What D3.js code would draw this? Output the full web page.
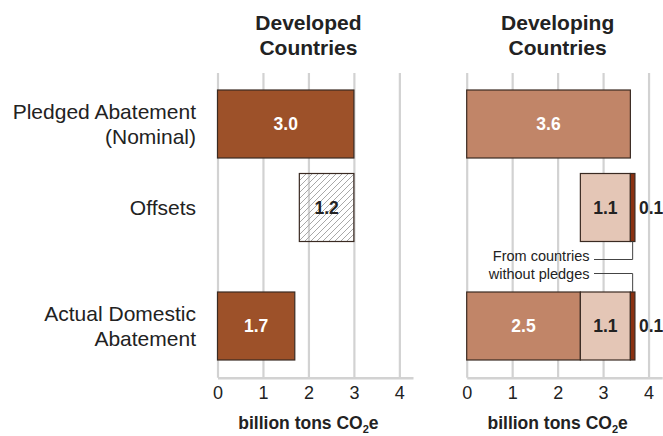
<!DOCTYPE html>
<html>
<head>
<meta charset="utf-8">
<script src="https://cdn.jsdelivr.net/npm/d3@7"></script>
<style>
  body { margin: 0; background: #fff; }
  svg { display: block; font-family: "Liberation Sans", Arial, sans-serif; }
</style>
</head>
<body>
<svg id="chart" width="663" height="436"></svg>
<script>
// Row categories (split into display lines)
var categories = ["Pledged Abatement (Nominal)", "Offsets", "Actual Domestic Abatement"];
var categoryLines = [["Pledged Abatement", "(Nominal)"], ["Offsets"], ["Actual Domestic", "Abatement"]];

// Panel titles
var panelTitles = [["Developed", "Countries"], ["Developing", "Countries"]];

// Developed countries: segment values per row, and where each row starts
var developedValues = [[3.0], [1.2], [1.7]];
var developedStarts = [0, 1.8, 0];
var developedKinds = [["developed"], ["offsetHatch"], ["developed"]];

// Developing countries
var developingValues = [[3.6], [1.1, 0.1], [2.5, 1.1, 0.1]];
var developingStarts = [0, 2.5, 0];
var developingKinds = [["developing"], ["offset", "noPledge"], ["developing", "offset", "noPledge"]];

var tickValues = [0, 1, 2, 3, 4];
var axisTitle = "billion tons CO";
var annotationLines = ["From countries", "without pledges"];

// Styles
var fills = {
    developed: "#9d5129",
    developing: "#c18568",
    offset: "#e4c6b6",
    noPledge: "#8a3111",
    offsetHatch: "url(#hatch)"
};
var labelColours = {
    developed: "#fff",
    developing: "#fff",
    offset: "#222",
    offsetHatch: "#222",
    noPledge: "#222"
};

var svg = d3.select("#chart");

// Hatch pattern for the developed offsets bar
var pattern = svg.append("defs").append("pattern")
    .attr("id", "hatch")
    .attr("patternUnits", "userSpaceOnUse")
    .attr("width", 6)
    .attr("height", 6);
pattern.append("path")
    .attr("d", "M0,6 L6,0 M-1,1 L1,-1 M5,7 L7,5")
    .attr("stroke", "#a8a8a8")
    .attr("stroke-width", 1);

var y = d3.scaleOrdinal()
    .domain(categories)
    .range([124, 207.5, 326]);
var barHeight = 68;
var gridTop = 73,
    axisY = 377.7;

// Category labels on the left
var catLabels = svg.append("g")
    .selectAll("text")
    .data(categories)
    .enter().append("text")
    .attr("text-anchor", "end")
    .attr("font-size", 21)
    .attr("fill", "#222")
    .attr("x", 196);
catLabels.each(function (d, i) {
    var lines = categoryLines[i],
        lineHeight = 25,
        first = y(d) + 7 - (lines.length - 1) * lineHeight / 2;
    var t = d3.select(this);
    lines.forEach(function (line, j) {
        t.append("tspan")
            .attr("x", 196)
            .attr("y", first + j * lineHeight)
            .text(line);
    });
});

function drawPanel(x, values, starts, kinds, title) {
    var g = svg.append("g");

    // Title
    var titleText = g.append("text")
        .attr("text-anchor", "middle")
        .attr("font-size", 21)
        .attr("font-weight", "bold")
        .attr("fill", "#222");
    title.forEach(function (line, j) {
        titleText.append("tspan")
            .attr("x", x(2))
            .attr("y", 29.5 + j * 25)
            .text(line);
    });

    // Axis with gridlines
    var axis = d3.axisBottom(x)
        .tickValues(tickValues)
        .tickSizeInner(-(axisY - gridTop))
        .tickSizeOuter(0)
        .tickPadding(9)
        .tickFormat(d3.format("d"));
    var ax = g.append("g")
        .attr("transform", "translate(0," + axisY + ")")
        .call(axis);
    ax.select(".domain")
        .attr("stroke", "#d2d2d2")
        .attr("stroke-width", 2.5);
    ax.selectAll(".tick line")
        .attr("stroke", "#d2d2d2")
        .attr("stroke-width", 2.2);
    ax.selectAll(".tick text")
        .attr("font-size", 18)
        .attr("fill", "#222")
        .attr("font-family", "Liberation Sans, Arial, sans-serif");

    // Axis title
    var at = g.append("text")
        .attr("x", x(2))
        .attr("y", 429)
        .attr("text-anchor", "middle")
        .attr("font-size", 17.5)
        .attr("font-weight", "bold")
        .attr("fill", "#222");
    at.append("tspan").text(axisTitle);
    at.append("tspan").attr("font-size", 11).attr("dy", 4).text("2");
    at.append("tspan").attr("dy", -4).text("e");

    // Bars
    categories.forEach(function (cat, i) {
        var pos = starts[i];
        values[i].forEach(function (v, k) {
            var kind = kinds[i][k],
                x0 = x(pos),
                x1 = x(pos + v);
            g.append("rect")
                .attr("x", x0)
                .attr("y", y(cat) - barHeight / 2)
                .attr("width", x1 - x0)
                .attr("height", barHeight)
                .attr("fill", fills[kind])
                .attr("stroke", "#3a2a22")
                .attr("stroke-width", 1.2);

            var inside = (x1 - x0) > 20;
            g.append("text")
                .attr("x", inside ? (x0 + x1) / 2 : x1 + 4)
                .attr("y", y(cat))
                .attr("dy", "0.36em")
                .attr("text-anchor", inside ? "middle" : "start")
                .attr("font-size", 17.5)
                .attr("font-weight", "bold")
                .attr("fill", labelColours[kind])
                .text(d3.format(".1f")(v));
            pos += v;
        });
    });
    return g;
}

var xDeveloped = d3.scaleLinear().domain([0, 4.3]).range([217.5, 413]);
var xDeveloping = d3.scaleLinear().domain([0, 4.3]).range([466.7, 662.2]);

drawPanel(xDeveloped, developedValues, developedStarts, developedKinds, panelTitles[0]);
var right = drawPanel(xDeveloping, developingValues, developingStarts, developingKinds, panelTitles[1]);

// Annotation for the offsets from countries without pledges
var noPledgeX = xDeveloping(developingStarts[1] + developingValues[1][0] + developingValues[1][1] / 2),
    offsetsBottom = y(categories[1]) + barHeight / 2,
    actualTop = y(categories[2]) - barHeight / 2,
    textRight = 589.5,
    lineStart = 594;

right.selectAll(".note")
    .data(annotationLines)
    .enter().append("text")
    .attr("class", "note")
    .attr("x", textRight)
    .attr("y", function (d, i) { return 261 + i * 18; })
    .attr("text-anchor", "end")
    .attr("font-size", 14.5)
    .attr("fill", "#222")
    .text(function (d) { return d; });

right.append("path")
    .attr("d", "M" + lineStart + ",259.5 H" + noPledgeX + " V" + offsetsBottom)
    .attr("fill", "none")
    .attr("stroke", "#444")
    .attr("stroke-width", 1);
right.append("path")
    .attr("d", "M" + lineStart + ",273.5 H" + noPledgeX + " V" + actualTop)
    .attr("fill", "none")
    .attr("stroke", "#444")
    .attr("stroke-width", 1);
</script>
</body>
</html>
